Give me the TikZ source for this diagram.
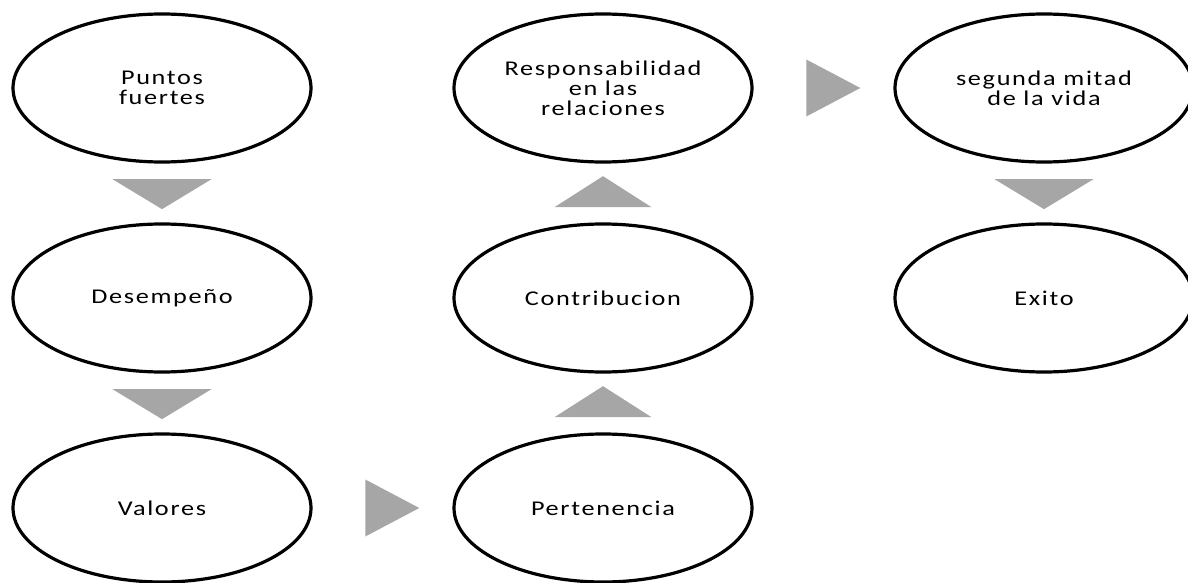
\documentclass[tikz,border=0pt]{standalone}
\usepackage{fontspec}
\usepackage{tikz}
\usetikzlibrary{shapes.geometric,positioning,calc}
\newfontfamily\bubblefont{Carlito}[FakeStretch=1.25,LetterSpace=8]
\definecolor{arrowgray}{HTML}{A6A6A6}

\begin{document}
\begin{tikzpicture}[
  node distance=62pt and 143pt,
  bubble/.style={ellipse,draw,line width=3.2pt,minimum width=298pt,minimum height=148pt,
    inner sep=0pt,outer sep=0pt,align=center,font=\bubblefont\fontsize{21}{20}\selectfont},
  tri/.style={isosceles triangle,isosceles triangle stretches,fill=arrowgray,draw=none,
    inner sep=0pt,outer sep=0pt},
  downtri/.style={tri,rotate=-90,minimum height=30pt,minimum width=99pt},
  uptri/.style={tri,rotate=90,minimum height=31pt,minimum width=97pt},
  righttri/.style={tri,minimum width=57pt,minimum height=54pt}
]
  \useasboundingbox (-162pt,88pt) rectangle (1026pt,-495pt);

  \node[bubble] (PF) {Puntos\\fuertes};
  \node[bubble,below=of PF]  (DES) {Desempeño};
  \node[bubble,below=of DES] (VAL) {Valores};
  \node[bubble,right=of VAL] (PER) {Pertenencia};
  \node[bubble,above=of PER] (CON) {Contribucion};
  \node[bubble,above=of CON] (RES) {Responsabilidad\\en las\\relaciones};
  \node[bubble,right=of RES] (SEG) {segunda mitad\\de la vida};
  \node[bubble,below=of SEG] (EXI) {Exito};

  \node[downtri]  at ($(PF.south)!0.5!(DES.north)$) {};
  \node[downtri]  at ($(DES.south)!0.5!(VAL.north)$) {};
  \node[righttri] at ($(VAL.east)!0.5!(PER.west)$) {};
  \node[uptri]    at ($(PER.north)!0.5!(CON.south)$) {};
  \node[uptri]    at ($(CON.north)!0.5!(RES.south)$) {};
  \node[righttri] at ($(RES.east)!0.5!(SEG.west)$) {};
  \node[downtri]  at ($(SEG.south)!0.5!(EXI.north)$) {};
\end{tikzpicture}
\end{document}
